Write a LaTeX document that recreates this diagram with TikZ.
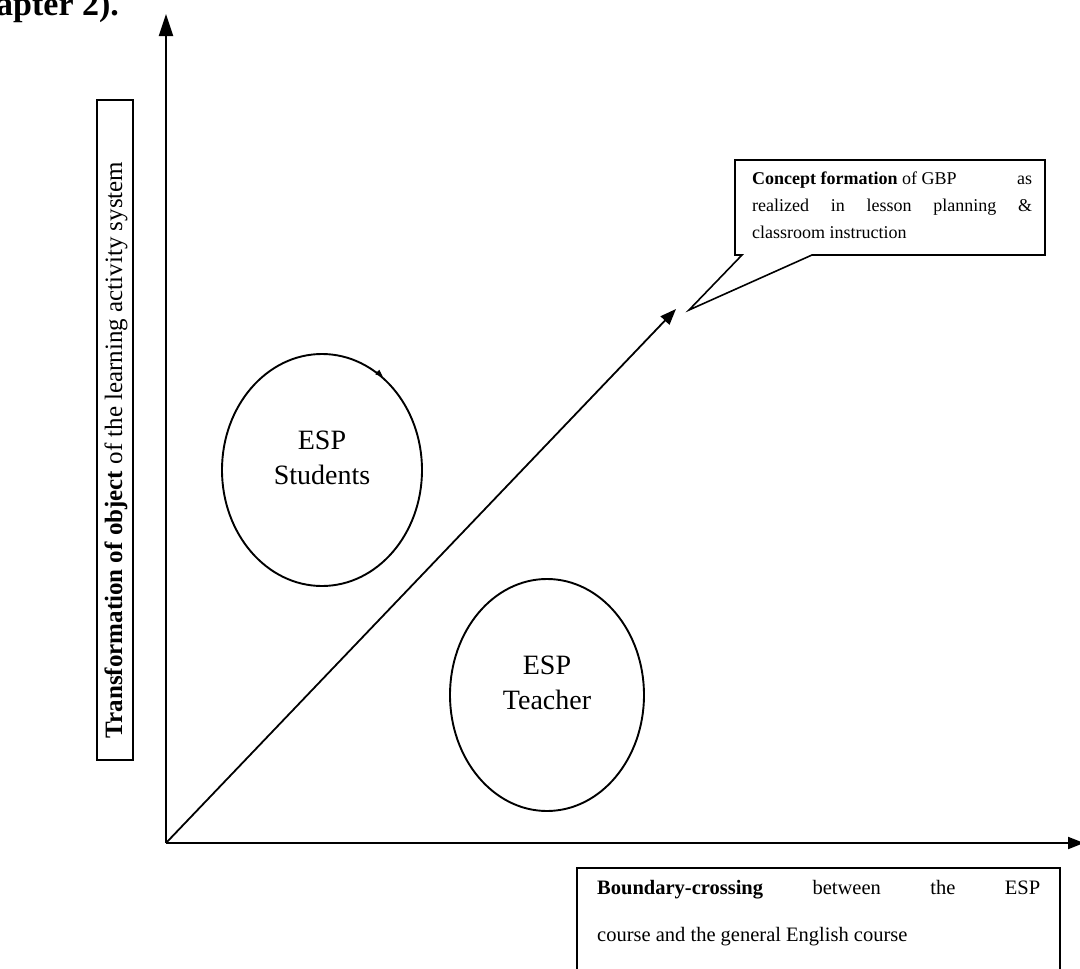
\documentclass[tikz,border=0pt]{standalone}
\usepackage{fontspec}
\setmainfont{Liberation Serif}
\usetikzlibrary{arrows.meta,shapes.geometric}
\begin{document}
\begin{tikzpicture}[x=1pt,y=-1pt,
  axis/.style={line width=2pt},
  boxline/.style={line width=1.6pt},
  lbl/.style={font=\fontsize{28}{35}\selectfont, align=center, inner sep=0pt},
  oval/.style={ellipse, draw, line width=1.9pt, inner sep=0pt}]
\useasboundingbox (0,0) rectangle (1080,969);
\clip (0,0) rectangle (1080,969);

% running text from the page above the figure
\node[anchor=base west, inner sep=0pt, font=\bfseries\fontsize{34}{34}\selectfont] (chap) at (-4,16) {apter 2).};

% axes and the development arrow
\coordinate (O) at (166,843);
\coordinate (ytip) at (166,14);
\coordinate (xtip) at (1084,843);
\coordinate (dtip) at (676,309);
\draw[axis,-{Triangle[length=22pt,width=14pt]}] (O) -- (ytip);
\draw[axis,-{Triangle[length=16pt,width=12pt]}] (O) -- (xtip);
\draw[line width=1.8pt,-{Triangle[length=16pt,width=12pt]}] (O) -- (dtip);

% participants
\node[oval, minimum width=200pt, minimum height=232pt] (stu) at (322,470) {};
\node[lbl] (stutext) at (322,458) {ESP\\Students};
\draw[line width=1pt,-{Triangle[length=7pt,width=6pt]}] ([shift={(-6,-5)}]stu.57) -- (stu.57);
\node[oval, minimum width=194pt, minimum height=232pt] (tea) at (547,695) {};
\node[lbl] (teatext) at (547,683) {ESP\\Teacher};

% vertical axis label
\node[draw, boxline, minimum width=36pt, minimum height=660pt, inner sep=0pt] (ybox) at (115,430) {};
\node[rotate=90, inner sep=0pt, font=\fontsize{25}{25}\selectfont] (ylabel) at (116,450)
  {\textbf{Transformation of object} of the learning activity system};

% callout at the arrow head
\coordinate (ctail) at (689,310);
\draw[boxline] (735,160) -- (1045,160) -- (1045,255) -- (812,255) -- (ctail) -- (742,255) -- (735,255) -- cycle;
\node[anchor=north west, text width=280pt, align=justify, inner sep=0pt,
      font=\fontsize{18}{27}\selectfont] (ctext) at (752,172)
  {\textbf{Concept formation} of GBP\hfill as\linebreak realized in lesson planning \&\linebreak classroom instruction};

% horizontal axis label
\draw[boxline] (577,985) -- (577,868) -- (1060,868) -- (1060,985);
\node[anchor=north west, text width=443pt, align=justify, inner sep=0pt,
      font=\fontsize{20.5}{47}\selectfont] (btext) at (597,880)
  {\textbf{Boundary-crossing}\hfill between\hfill the\hfill ESP\linebreak course and the general English course};
\end{tikzpicture}
\end{document}
